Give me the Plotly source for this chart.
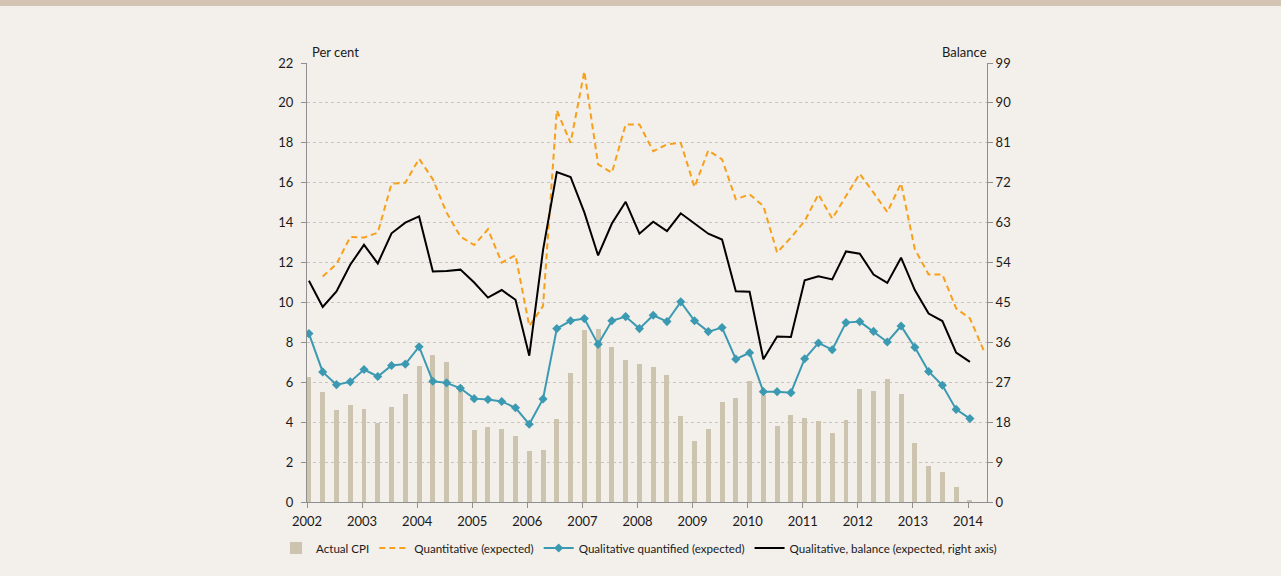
import plotly.graph_objects as go

# ---------------- data (quarterly, 2002Q1 onwards) ----------------
years = list(range(2002, 2015))
quarters = [f"{y}Q{q}" for y in range(2002, 2015) for q in (1, 2, 3, 4)]

actual_cpi = [6.27, 5.53, 4.60, 4.87, 4.67, 3.98, 4.74, 5.41,
              6.84, 7.39, 7.04, 5.87, 3.61, 3.78, 3.66, 3.31,
              2.55, 2.62, 4.17, 6.45, 8.60, 8.66, 7.75, 7.14,
              6.94, 6.79, 6.35, 4.32, 3.06, 3.66, 5.03, 5.19,
              6.08, 5.38, 3.83, 4.37, 4.22, 4.07, 3.46, 4.12,
              5.66, 5.55, 6.18, 5.43, 2.94, 1.80, 1.51, 0.76,
              0.08]

# Quantitative (expected) starts in 2002Q2 and ends 2014Q2
quantitative = [11.30, 11.92, 13.28, 13.25, 13.50, 15.95, 16.00,
                17.20, 16.17, 14.50, 13.30, 12.88, 13.67, 12.00, 12.37,
                8.82, 9.82, 19.63, 18.00, 21.58, 16.92, 16.50, 18.92,
                18.92, 17.58, 17.92, 18.00, 15.78, 17.62, 17.17, 15.17,
                15.42, 14.83, 12.50, 13.25, 14.08, 15.42, 14.20, 15.33,
                16.45, 15.50, 14.53, 15.97, 12.67, 11.40, 11.40, 9.70,
                9.20, 7.60]

qual_quantified = [8.44, 6.52, 5.88, 6.02, 6.64, 6.29, 6.84, 6.91,
                   7.78, 6.05, 5.97, 5.70, 5.18, 5.14, 5.04, 4.72,
                   3.90, 5.16, 8.69, 9.08, 9.19, 7.90, 9.08, 9.29,
                   8.69, 9.36, 9.04, 10.03, 9.08, 8.54, 8.74, 7.16,
                   7.48, 5.53, 5.53, 5.48, 7.18, 7.97, 7.63, 8.99,
                   9.04, 8.55, 8.02, 8.82, 7.75, 6.54, 5.85, 4.64,
                   4.18]

qual_balance = [49.9, 44.0, 47.5, 53.5, 58.0, 53.8, 60.6, 63.0,
                64.4, 52.0, 52.1, 52.4, 49.5, 46.1, 47.8, 45.6,
                33.0, 56.8, 74.4, 73.3, 65.3, 55.6, 62.8, 67.7,
                60.5, 63.2, 61.1, 65.1, 62.8, 60.5, 59.2, 47.5,
                47.4, 32.2, 37.3, 37.2, 50.0, 50.9, 50.2, 56.5,
                56.0, 51.3, 49.4, 55.1, 47.8, 42.5, 40.8, 33.7,
                31.6]

left_ticks = list(range(0, 23, 2))
right_ticks = list(range(0, 100, 9))


def qpos(label):
    y, q = label.split("Q")
    return int(y) + (int(q) - 1) * 0.25 + 0.035


x_all = [qpos(q) for q in quarters]
x_cpi = x_all[:len(actual_cpi)]
x_quant = x_all[1:1 + len(quantitative)]
x_qq = x_all[:len(qual_quantified)]
x_bal = x_all[:len(qual_balance)]

FONT = "Lato, 'Open Sans', sans-serif"
BAR = "#CCC4AF"
ORANGE = "#F7A01A"
TEAL = "#3B9AB1"
BLACK = "#000000"

fig = go.Figure()
fig.add_trace(go.Bar(x=x_cpi, y=actual_cpi, name="Actual CPI",
                     marker=dict(color=BAR, line=dict(width=0)),
                     width=0.09))
fig.add_trace(go.Scatter(x=x_quant, y=quantitative, name="Quantitative (expected)",
                         mode="lines",
                         line=dict(color=ORANGE, width=2, dash="6px,4px")))
fig.add_trace(go.Scatter(x=x_qq, y=qual_quantified, name="Qualitative quantified (expected)",
                         mode="lines+markers",
                         line=dict(color=TEAL, width=2),
                         marker=dict(symbol="diamond", size=7, color=TEAL)))
fig.add_trace(go.Scatter(x=x_bal, y=qual_balance,
                         name="Qualitative, balance (expected, right axis)",
                         mode="lines", yaxis="y2",
                         line=dict(color=BLACK, width=2)))

axis_col = "#8f8f8f"
fig.update_layout(
    width=1281, height=576,
    paper_bgcolor="#F3EFEB", plot_bgcolor="#F3EFEB",
    margin=dict(l=307, r=294, t=63, b=74, autoexpand=False),
    font=dict(family=FONT, size=13, color="#1a1a1a"),
    bargap=0,
    showlegend=True,
    legend=dict(orientation="h", xref="paper", yref="paper",
                x=(276 - 307) / 680, xanchor="left", y=-(548 - 502) / 439, yanchor="middle",
                font=dict(size=11.6, color="#1a1a1a"), bgcolor="rgba(0,0,0,0)",
                traceorder="normal", itemwidth=30, tracegroupgap=0),
    xaxis=dict(range=[2002, 2014.345], tickmode="array", tickvals=years,
               ticktext=[str(y) for y in years], showgrid=False, zeroline=False,
               showline=True, linecolor=axis_col, linewidth=1,
               ticks="outside", ticklen=5, tickcolor=axis_col,
               tickfont=dict(size=13), ticklabelstandoff=2),
    yaxis=dict(range=[0, 22], tickmode="array", tickvals=left_ticks,
               showgrid=True, gridcolor="#c6c2be", griddash="3px,3px", gridwidth=1,
               zeroline=False, showline=True, linecolor=axis_col, linewidth=1,
               ticks="outside", ticklen=5, tickcolor=axis_col,
               tickfont=dict(size=13), ticklabelstandoff=5),
    yaxis2=dict(range=[0, 99], tickmode="array", tickvals=right_ticks,
                overlaying="y", side="right", showgrid=False, zeroline=False,
                showline=True, linecolor=axis_col, linewidth=1,
                ticks="outside", ticklen=5, tickcolor=axis_col,
                tickfont=dict(size=13)),
    annotations=[
        dict(text="Per cent", xref="paper", yref="paper", x=0, y=1,
             xanchor="left", yanchor="bottom", xshift=3, yshift=1,
             showarrow=False, font=dict(size=13, color="#1a1a1a")),
        dict(text="Balance", xref="paper", yref="paper", x=1, y=1,
             xanchor="right", yanchor="bottom", xshift=2, yshift=1,
             showarrow=False, font=dict(size=13, color="#1a1a1a")),
    ],
)

# top tan band
fig.add_shape(type="rect", xref="paper", yref="paper",
              x0=-307 / 680, x1=(680 + 294) / 680,
              y0=1 + 57 / 439, y1=1 + 64 / 439,
              fillcolor="#D3C4B3", line=dict(width=0), layer="above")

fig.write_html("out.html", config={"displayModeBar": False},
               post_script="document.body.style.margin='0';document.body.style.overflow='hidden';")
